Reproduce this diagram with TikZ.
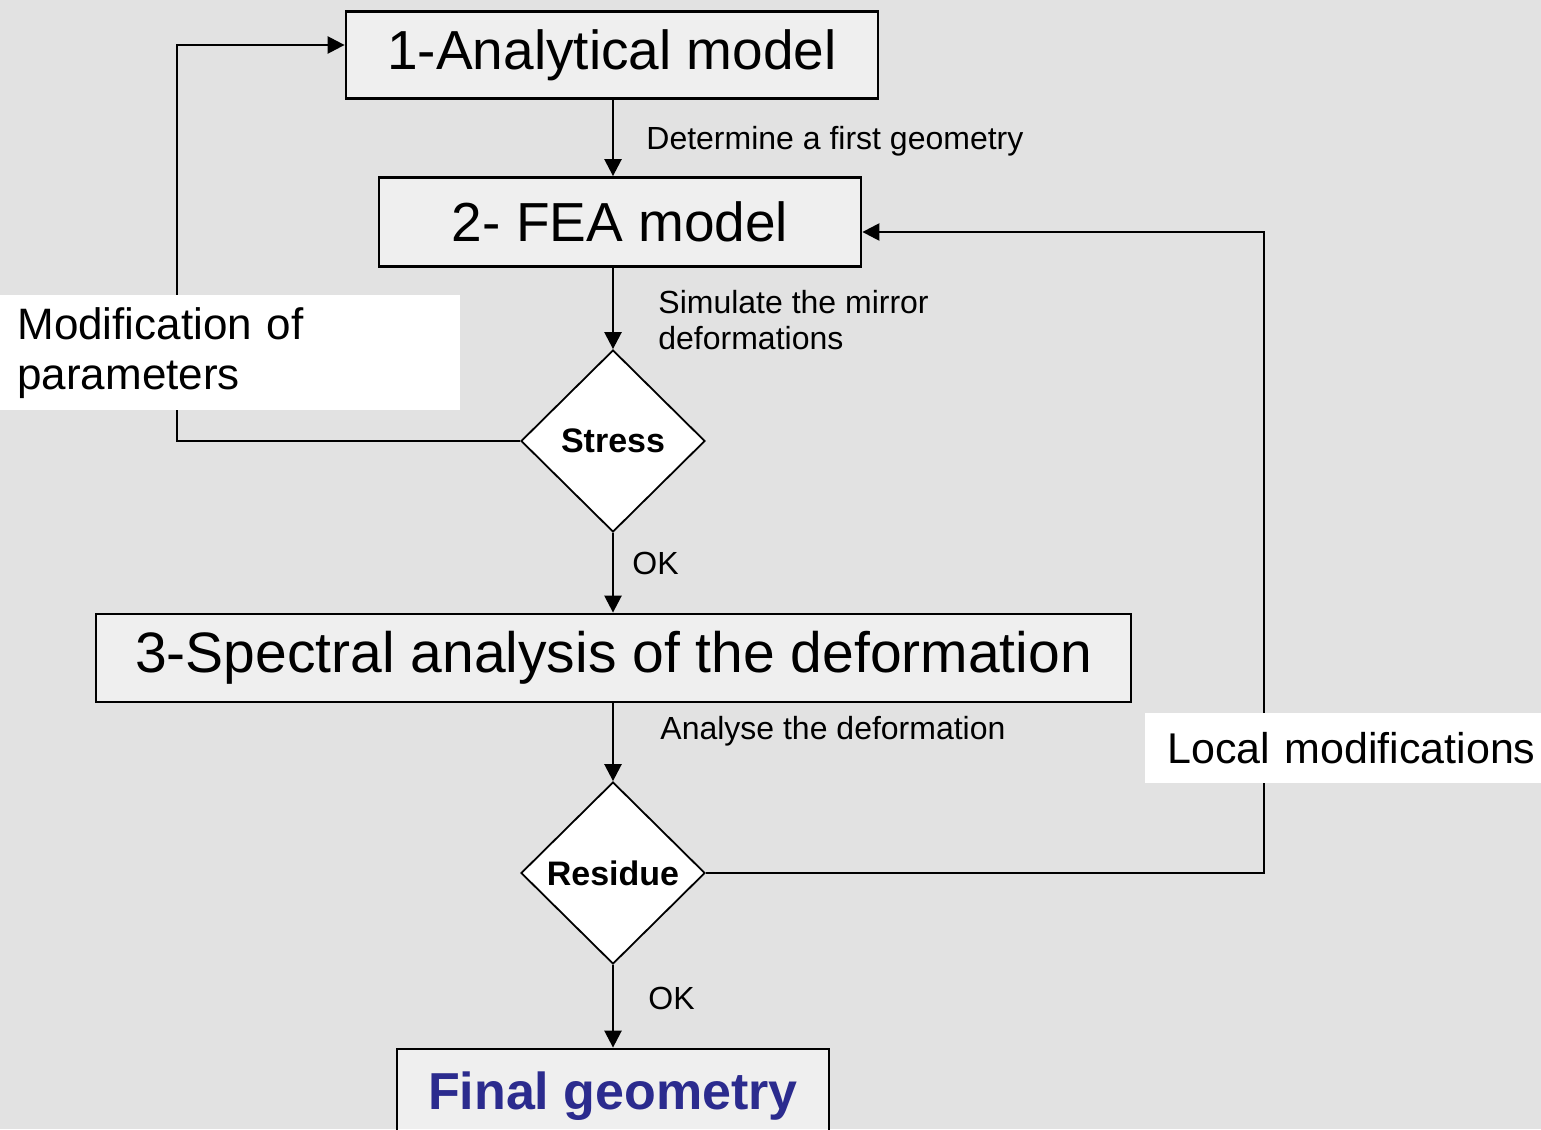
\documentclass[tikz,border=0pt]{standalone}
\usepackage{fontspec}
\setmainfont{Liberation Sans}
\usetikzlibrary{arrows.meta,shapes.geometric}
\definecolor{mapgray}{HTML}{E2E2E2}
\definecolor{finalblue}{HTML}{2B2B8E}
\begin{document}
\begin{tikzpicture}[x=0.5pt,y=-0.5pt,
  box/.style={draw, line width=1.4pt, fill=white, fill opacity=0.45, text opacity=1,
    inner sep=0pt, font=\fontsize{27.5}{32}\selectfont},
  test/.style={diamond, draw, line width=0.9pt, fill=white, inner sep=0pt,
    minimum width=92pt, minimum height=91pt, font=\bfseries\fontsize{17}{20}\selectfont},
  note/.style={anchor=west, inner sep=0pt, font=\fontsize{16}{19}\selectfont, align=left},
  remark/.style={anchor=north west, fill=white, inner ysep=0pt, align=left,
    font=\fontsize{22}{25}\selectfont},
  line/.style={line width=1.25pt},
  arr/.style={line, -{Triangle[width=8.5pt,length=8.5pt]}}]

  \clip (0,0) rectangle (1541,1129);
  \fill[mapgray] (0,0) rectangle (1541,1129);

  % boxes and tests
  \node[box, minimum width=266pt, minimum height=43.5pt] (model1) at (612,55) {1-Analytical model};
  \node[box, minimum width=241pt, minimum height=44.5pt] (model2) at (620,222) {2- FEA model};
  \node[test] (stress) at (613,441) {Stress};
  \node[box, minimum width=517.5pt, minimum height=44pt, font=\fontsize{28.5}{32}\selectfont] (spectral) at (613.5,658) {3-Spectral analysis of the deformation};
  \node[test] (residue) at (613,873) {Residue};
  \node[box, minimum width=216pt, minimum height=50pt, font=\bfseries\fontsize{26}{30}\selectfont,
    text=finalblue] (final) at (613,1099) {\raisebox{8pt}{Final geometry}};

  % bends
  \coordinate (bendA) at (177,446);
  \coordinate (bendB) at (177,45);
  \coordinate (bendC) at (1264,868);
  \coordinate (bendD) at (1264,232);

  % main flow
  \draw[arr] (model1.south -| stress.north) -- (model2.north -| stress.north);
  \draw[arr] (model2.south -| stress.north) -- (stress.north);
  \draw[arr] (stress.south) -- (spectral.north -| stress.south);
  \draw[arr] (spectral.south -| residue.north) -- (residue.north);
  \draw[arr] (residue.south) -- (final.north -| residue.south);

  % loops
  \draw[arr] (stress.west) -- (stress.west -| bendA) -- (bendB) -- (bendB -| model1.west);
  \draw[arr] (residue.east) -- (residue.east -| bendC) -- (bendD) -- (bendD -| model2.east);

  % labels
  \node[note] (first) at (646,141) {Determine a first geometry};
  \node[note, font=\fontsize{16}{18}\selectfont] (simul) at (658,320) {Simulate the mirror\\deformations};
  \node[note] (ok1) at (632,563) {OK};
  \node[note] (analyse) at (660,731) {Analyse the deformation};
  \node[note] (ok2) at (648,998) {OK};

  \node[remark, minimum width=230pt, minimum height=57.5pt, text width=213pt, inner xsep=8.5pt]
    (modif) at (0,295) {Modification of\\parameters};
  \node[remark, minimum width=198pt, minimum height=35pt, text width=187pt, inner xsep=11pt,
    font=\fontsize{21.5}{25}\selectfont] (local) at (1145,713) {Local modifications};
\end{tikzpicture}
\end{document}
